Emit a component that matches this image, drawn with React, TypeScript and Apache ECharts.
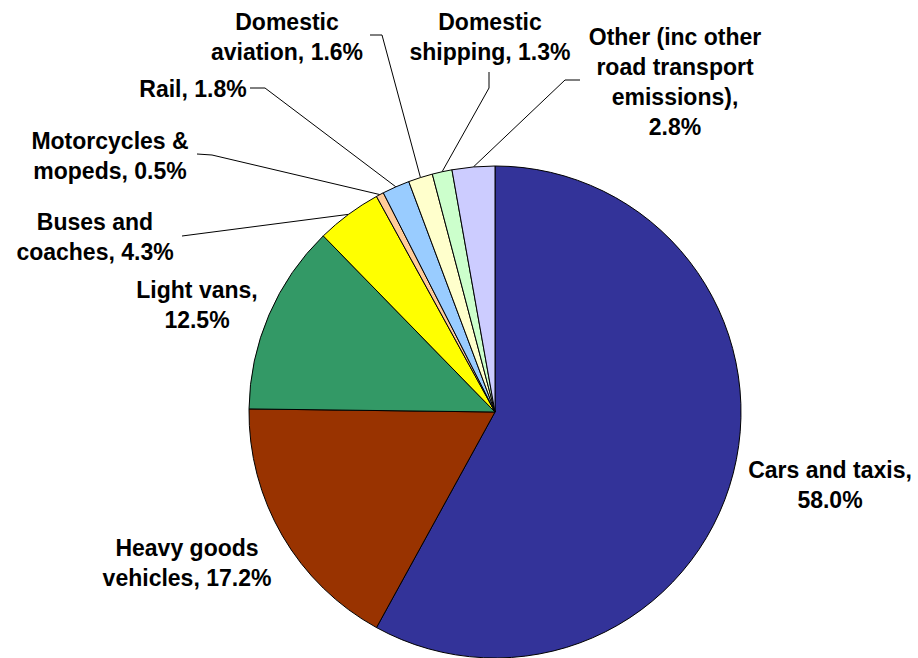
import React, { useEffect, useRef } from "react";
import * as echarts from "echarts";

const categories = [
  "Cars and taxis",
  "Heavy goods vehicles",
  "Light vans",
  "Buses and coaches",
  "Motorcycles & mopeds",
  "Rail",
  "Domestic aviation",
  "Domestic shipping",
  "Other (inc other road transport emissions)",
];
const values = [58.0, 17.2, 12.5, 4.3, 0.5, 1.8, 1.6, 1.3, 2.8];
const labelTemplates = [
  "Cars and taxis,\n{v}",
  "Heavy goods\nvehicles, {v}",
  "Light vans,\n{v}",
  "Buses and\ncoaches, {v}",
  "Motorcycles &\nmopeds, {v}",
  "Rail, {v}",
  "Domestic\naviation, {v}",
  "Domestic\nshipping, {v}",
  "Other (inc other\nroad transport\nemissions),\n{v}",
];
const colors = [
  "#333399",
  "#993300",
  "#339966",
  "#FFFF00",
  "#FFCC99",
  "#99CCFF",
  "#FFFFCC",
  "#CCFFCC",
  "#CCCCFF",
];
const hasLeader = [false, false, false, true, true, true, true, true, true];

// label layout (positions of label centres and leader-line elbows)
const labelCenters: number[][] = [
  [830, 485],
  [187, 563],
  [197, 305],
  [95, 237],
  [110, 156],
  [193, 89],
  [287, 37],
  [490, 37],
  [675, 82],
];
const leaderTails: number[][][] = [
  [],
  [],
  [],
  [[182, 236]],
  [[212, 155], [197, 154]],
  [[265, 88], [250, 88]],
  [[382, 35], [370, 35]],
  [[489, 88], [489, 72]],
  [[565, 80], [580, 80]],
];

export default function App() {
  const ref = useRef<HTMLDivElement>(null);
  useEffect(() => {
    if (!ref.current) return;
    const chart = echarts.init(ref.current, undefined, { renderer: "svg" });
    const data = categories.map((name, i) => ({
      name,
      value: values[i],
      itemStyle: { color: colors[i] },
      labelLine: { show: hasLeader[i] },
    }));
    chart.setOption({
      animation: false,
      backgroundColor: "#ffffff",
      series: [
        {
          type: "pie",
          center: [495, 412],
          radius: 246,
          startAngle: 90,
          clockwise: true,
          avoidLabelOverlap: false,
          itemStyle: { borderColor: "#000000", borderWidth: 1 },
          emphasis: { disabled: true },
          label: {
            show: true,
            position: "outside",
            color: "#000000",
            fontFamily: "Liberation Sans, Arial, sans-serif",
            fontWeight: "bold",
            fontSize: 23,
            lineHeight: 30,
            align: "center",
            formatter: (p: any) =>
              labelTemplates[p.dataIndex].replace(
                "{v}",
                Number(p.value).toFixed(1) + "%"
              ),
          },
          labelLine: {
            show: true,
            length: 20,
            length2: 20,
            lineStyle: { color: "#000000", width: 1 },
          },
          labelLayout: (params: any) => {
            const i = params.dataIndex;
            const c = labelCenters[i];
            const res: any = {
              x: c[0],
              y: c[1],
              align: "center",
              verticalAlign: "middle",
            };
            const pts = params.labelLinePoints;
            if (hasLeader[i] && pts && pts.length) {
              res.labelLinePoints = [pts[0], ...leaderTails[i]];
            }
            return res;
          },
          data,
        },
      ],
    });
    return () => chart.dispose();
  }, []);
  return (
    <div
      ref={ref}
      style={{ position: "fixed", left: 0, top: 0, width: 918, height: 658 }}
    />
  );
}
